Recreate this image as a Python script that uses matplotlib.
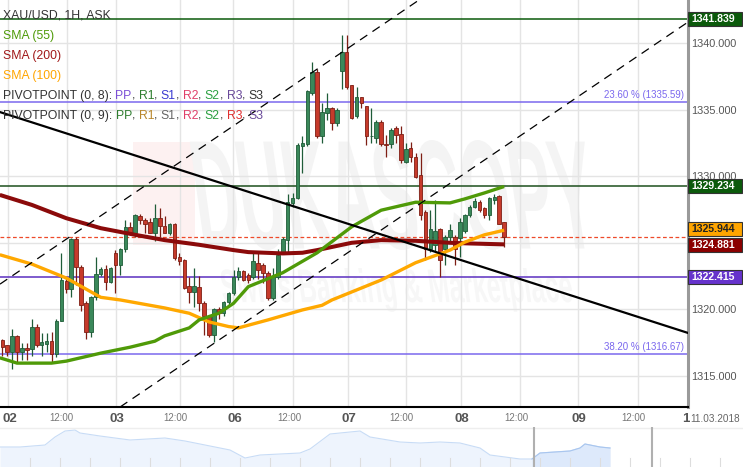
import numpy as np
import matplotlib.pyplot as plt
from matplotlib.patches import Rectangle, PathPatch
from matplotlib.textpath import TextPath
from matplotlib.font_manager import FontProperties
import matplotlib.transforms as mtransforms

plt.rcParams['font.family'] = ['Liberation Sans', 'DejaVu Sans']

# hourly candles (open, high, low, close)
opens = [1317.7, 1317.3, 1316.75, 1318.0, 1316.75, 1317.05, 1317.0, 1318.65, 1317.3, 1317.4,
         1317.6, 1316.65, 1319.15, 1322.15, 1321.55, 1325.25, 1323.2, 1320.45, 1318.3, 1320.9,
         1322.65, 1323.0, 1322.05, 1324.2, 1323.3, 1324.5, 1326.2, 1325.7, 1327.0, 1326.75,
         1326.6, 1325.7, 1326.9, 1326.3, 1325.75, 1326.45, 1323.95, 1323.7, 1321.75, 1321.3,
         1321.7, 1320.5, 1319.5, 1318.05, 1320.0, 1319.7, 1320.55, 1321.2, 1322.45, 1322.85,
         1322.55, 1322.45, 1323.5, 1323.3, 1322.75, 1320.85, 1322.45, 1324.25, 1325.2, 1328.0,
         1328.4, 1332.3, 1332.45, 1336.25, 1337.85, 1333.0, 1334.75, 1335.15, 1334.0, 1337.9,
         1339.35, 1336.85, 1334.5, 1336.0, 1335.3, 1333.0, 1332.85, 1334.1, 1332.45, 1332.45,
         1333.65, 1333.2, 1331.1, 1332.15, 1331.45, 1330.1, 1327.3, 1324.5, 1324.8, 1326.0,
         1324.5, 1325.4, 1325.45, 1325.35, 1325.85, 1327.1, 1327.7, 1328.1, 1327.65, 1327.1,
         1328.25, 1328.5, 1326.6]
highs = [1317.75, 1317.35, 1318.5, 1318.05, 1317.45, 1317.45, 1319.3, 1318.9, 1318.2, 1318.2,
         1318.3, 1319.3, 1324.2, 1322.35, 1325.35, 1325.45, 1323.35, 1320.6, 1321.0, 1323.95,
         1323.2, 1323.35, 1323.2, 1324.45, 1324.6, 1326.7, 1326.6, 1327.2, 1327.2, 1326.85,
         1326.85, 1327.9, 1327.6, 1327.0, 1326.5, 1326.5, 1324.2, 1323.75, 1322.45, 1323.1,
         1322.5, 1320.6, 1319.55, 1320.1, 1320.2, 1320.6, 1321.3, 1322.95, 1323.2, 1322.95,
         1322.7, 1324.35, 1324.3, 1323.5, 1322.9, 1323.1, 1324.5, 1325.45, 1328.7, 1328.75,
         1332.5, 1333.0, 1336.5, 1338.6, 1338.1, 1335.5, 1336.25, 1335.25, 1335.15, 1340.65,
         1340.6, 1336.9, 1336.75, 1336.0, 1335.3, 1335.15, 1334.25, 1334.25, 1333.1, 1333.65,
         1333.75, 1333.8, 1332.5, 1332.6, 1331.75, 1331.75, 1327.45, 1327.45, 1328.2, 1326.1,
         1325.6, 1326.4, 1325.6, 1326.85, 1327.2, 1327.85, 1328.35, 1328.2, 1327.7, 1328.45,
         1328.7, 1328.6, 1326.6]
lows = [1316.45, 1316.45, 1315.5, 1316.0, 1316.15, 1316.2, 1316.5, 1317.2, 1316.5, 1316.75,
        1316.0, 1316.4, 1319.1, 1321.2, 1320.9, 1321.85, 1319.9, 1317.75, 1317.95, 1320.7,
        1322.5, 1321.45, 1321.95, 1321.2, 1322.6, 1324.3, 1325.6, 1325.45, 1326.45, 1325.7,
        1325.7, 1325.1, 1325.45, 1325.7, 1325.6, 1323.7, 1323.35, 1321.55, 1320.45, 1320.2,
        1319.85, 1318.05, 1317.9, 1317.55, 1319.3, 1319.5, 1320.3, 1321.05, 1322.2, 1322.1,
        1321.95, 1322.3, 1322.3, 1322.0, 1320.7, 1320.7, 1322.3, 1324.2, 1324.2, 1327.7,
        1328.3, 1330.25, 1332.3, 1336.1, 1332.9, 1332.5, 1334.25, 1333.5, 1333.75, 1336.6,
        1336.6, 1334.3, 1334.35, 1335.1, 1332.35, 1332.5, 1332.5, 1332.25, 1331.45, 1332.1,
        1332.5, 1331.0, 1331.0, 1331.1, 1329.85, 1326.7, 1323.7, 1324.3, 1324.4, 1322.4,
        1323.3, 1325.1, 1323.3, 1323.95, 1325.7, 1326.95, 1327.6, 1327.35, 1326.85, 1326.7,
        1327.95, 1326.45, 1324.7]
closes = [1317.2, 1316.75, 1318.0, 1316.75, 1317.05, 1316.95, 1318.65, 1317.3, 1317.55, 1317.6,
          1316.65, 1319.15, 1322.2, 1321.55, 1325.25, 1323.2, 1320.3, 1318.3, 1320.9, 1322.65,
          1323.0, 1322.05, 1323.1, 1323.3, 1324.5, 1326.2, 1325.7, 1327.1, 1326.7, 1326.45,
          1325.7, 1326.9, 1326.25, 1325.75, 1326.45, 1323.85, 1323.6, 1321.6, 1321.3, 1321.75,
          1320.45, 1319.5, 1318.05, 1320.05, 1319.7, 1320.55, 1321.2, 1322.45, 1322.85, 1322.2,
          1322.2, 1323.65, 1322.95, 1322.75, 1320.85, 1322.5, 1324.1, 1325.3, 1328.1, 1328.4,
          1332.35, 1332.5, 1336.4, 1337.85, 1333.0, 1334.85, 1335.15, 1334.0, 1335.0, 1339.35,
          1336.75, 1334.35, 1336.0, 1335.5, 1333.0, 1333.05, 1334.1, 1332.45, 1332.35, 1333.5,
          1333.1, 1331.25, 1332.05, 1331.45, 1329.95, 1327.1, 1324.5, 1326.0, 1325.9, 1323.7,
          1325.45, 1325.95, 1324.5, 1326.6, 1327.1, 1327.7, 1328.15, 1327.45, 1327.1, 1328.35,
          1328.45, 1326.45, 1325.45]

# moving averages (candle index, price)
sma55_x = [-0.5, 3, 10, 13, 20, 26, 31, 33, 38, 40, 44, 47, 50, 57, 64, 71, 77, 84, 91, 94, 98, 102]
sma55 = [1316.35, 1315.95, 1315.95, 1316.1, 1316.7, 1317.15, 1317.6, 1318.0, 1318.6, 1319.2, 1319.7,
         1320.45, 1321.7, 1322.75, 1324.25, 1326.2, 1327.45, 1328.05, 1328.0, 1328.3, 1328.75, 1329.234]
sma100_x = [-0.5, 6, 13, 20, 24, 27, 33, 38, 42, 46, 48, 50, 54, 61, 65, 67, 77, 84, 91, 94, 98, 102]
sma100 = [1324.1, 1323.4, 1322.35, 1320.9, 1320.7, 1320.5, 1320.1, 1319.7, 1319.05, 1318.7, 1318.6,
          1318.8, 1319.2, 1319.95, 1320.3, 1320.7, 1322.2, 1323.5, 1324.45, 1325.05, 1325.6, 1325.944]
sma200_x = [-0.5, 6, 13, 20, 27, 33, 40, 47, 50, 57, 61, 64, 71, 77, 84, 91, 95, 102]
sma200 = [1328.6, 1327.85, 1326.85, 1326.1, 1325.6, 1325.2, 1324.85, 1324.45, 1324.3, 1324.2,
          1324.25, 1324.45, 1325.0, 1325.2, 1325.15, 1325.0, 1324.95, 1324.881]

# drawn levels
level_top = 1341.839
level_r = 1329.234
pivot = 1322.415
fib_levels = [1335.59, 1316.67]
fib_labels = ['23.60 % (1335.59)', '38.20 % (1316.67)']
last_price = closes[-1]

# trend line and channel (two points each: candle index, price)
trend_pts = [(-0.47, 1334.83), (139.37, 1318.22)]
chan_low_pts = [(23.94, 1312.65), (139.37, 1341.60)]
chan_up_pts = [(-0.12, 1321.98), (84.7, 1343.26)]

# x axis
label_pos = [1.6, 12.1, 23.3, 35.1, 47.3, 58.3, 70.5, 81.2, 93.4, 104.4, 117.2, 128.2, 139.0]
label_txt = ['02', '12:00', '03', '12:00', '06', '12:00', '07', '12:00', '08', '12:00', '09', '12:00', '1']
grid_pos = [1.2, 13.2, 23.1, 36.1, 46.9, 59.1, 70.3, 82.1, 93.2, 105.2, 117.0, 129.2]
price_ticks = [1315, 1320, 1325, 1330, 1335, 1340]
hidden_ticks = [1325]   # covered by the price boxes

# navigator overview line
nav_x = [0, 20, 45, 55, 65, 75, 80, 100, 130, 165, 185, 200, 230, 245, 260, 280, 300, 310, 330, 350,
         360, 370, 400, 420, 440, 460, 480, 490, 520, 532, 540, 570, 580, 585, 600, 610]
nav_y = [20, 20, 22, 30, 36, 37, 34, 31, 27, 29, 26, 23, 17, 9, 12, 13, 14, 18, 33, 35,
         36, 30, 25, 24, 25, 24, 19, 12, 8, 8, 14, 16, 19, 23, 20, 19]

W, H = 743, 467
fig = plt.figure(figsize=(W / 100, H / 100), dpi=100)
ax = fig.add_axes([0, (H - 407) / H, 688 / W, 407 / H])
ax.set_xlim(-0.47, 139.37)
ax.set_ylim(1312.65, 1343.26)

# watermark
fp = FontProperties(family='Liberation Sans', weight='bold')


def stretched_text(s, x0, x1, ytop, ybot, color, prop):
    tp = TextPath((0, 0), s, size=1, prop=prop)
    ext = tp.get_extents()
    sx = (x1 - x0) / ext.width
    sy = (ybot - ytop) / ext.height
    tr = mtransforms.Affine2D().translate(-ext.x0, -ext.y0).scale(sx, sy).skew_deg(-8, 0).translate(x0, H - ybot)
    p = PathPatch(tr.transform_path(tp), fc=color, ec='none', transform=mtransforms.IdentityTransform(), zorder=0.3)
    ax.add_artist(p)


ax.add_artist(Rectangle((133, H - 245), 62, 103, transform=mtransforms.IdentityTransform(),
                        fc='#fdf1f1', ec='none', zorder=0.3))
stretched_text('DUKASCOPY', 205, 600, 140, 250, '#f4f4f4', fp)
stretched_text('Swiss Banking & Marketplace', 225, 575, 268, 312, '#f7f7f7', fp)

# grid
for g in grid_pos:
    ax.axvline(g, color='#e4e4e4', lw=1, zorder=0.5)
for p in price_ticks:
    ax.axhline(p, color='#e4e4e4', lw=1, zorder=0.5)

# horizontal levels
ax.axhline(level_top, color='#0b5a0b', lw=1.1, zorder=1)
ax.axhline(level_r, color='#1d4f1d', lw=1.1, zorder=1)
ax.axhline(pivot, color='#5b2fc0', lw=1.1, zorder=1)
for lv, lab in zip(fib_levels, fib_labels):
    ax.axhline(lv, color='#7b68ee', lw=1.1, zorder=1)
    ax.text(138.5, lv + 0.12, lab, color='#7b68ee', fontsize=7, ha='right', va='bottom', zorder=2)
ax.axhline(last_price, color='#ee4a2a', lw=0.9, ls=(0, (3, 2)), zorder=1)

# candles
x = np.arange(len(opens))
o = np.array(opens)
c = np.array(closes)
up = c >= o
fill = np.where(up, '#3a885a', '#c63a2b')
edge = np.where(up, '#1f5c38', '#7e1e14')
ax.vlines(x, lows, highs, colors=edge, lw=0.9, zorder=3)
ax.bar(x, np.maximum(np.abs(c - o), 0.05), bottom=np.minimum(o, c), width=0.72,
       color=fill, edgecolor=edge, linewidth=0.6, zorder=4)

# moving averages
ax.plot(sma200_x, sma200, color='#8b0a0a', lw=2.9, solid_capstyle='butt', zorder=5)
ax.plot(sma100_x, sma100, color='#ffa800', lw=2.4, solid_capstyle='butt', zorder=5)
ax.plot(sma55_x, sma55, color='#4f9a08', lw=2.4, solid_capstyle='butt', zorder=5)

# trend line and channel
ax.axline(trend_pts[0], trend_pts[1], color='black', lw=1.6, zorder=6)
ax.axline(chan_low_pts[0], chan_low_pts[1], color='black', lw=0.9, ls=(0, (7, 5)), zorder=6)
ax.axline(chan_up_pts[0], chan_up_pts[1], color='black', lw=0.9, ls=(0, (7, 5)), zorder=6)

# axes styling
for s in ['top', 'left']:
    ax.spines[s].set_visible(False)
ax.spines['bottom'].set_color('black')
ax.spines['bottom'].set_linewidth(1.5)
ax.spines['right'].set_color('#9a9a9a')
ax.spines['right'].set_linewidth(2.2)
ax.yaxis.tick_right()
ax.set_yticks(price_ticks)
ax.set_yticklabels(['' if p in hidden_ticks else f'{p:.3f}' for p in price_ticks])
ax.tick_params(axis='y', length=0, pad=2.5, labelsize=7.8, labelcolor='#555555')
ax.set_xticks(label_pos)
ax.set_xticklabels(label_txt)
ax.tick_params(axis='x', length=0, pad=4)
for lbl in ax.get_xticklabels():
    if lbl.get_text() == '12:00':
        lbl.set_fontsize(7)
        lbl.set_color('#777777')
    else:
        lbl.set_fontsize(9.5)
        lbl.set_fontweight('bold')
        lbl.set_color('#555555')
fig.text(690 / W, 1 - 419 / H, '11.03.2018', fontsize=7.2, color='#666666', va='center', ha='left')

# price boxes on right axis
boxes = [(level_top, '#0b5a0b', 'white', 0), (level_r, '#0b5a0b', 'white', 0),
         (sma100[-1], '#ffa500', '#222222', 1.5), (sma200[-1], '#8b0000', 'white', -1)]
boxes.append((pivot, '#6633cc', 'white', 0))
for val, fc, tc, shift in boxes:
    yc = ax.transData.transform((0, val))[1] + shift
    fig.add_artist(Rectangle((688 / W, (yc - 7) / H), 54 / W, 14 / H, transform=fig.transFigure,
                             fc=fc, ec='#333333', lw=0.8, zorder=10))
    fig.text(691 / W, yc / H, f'{val:.3f}', color=tc, fontsize=7.6, fontweight='bold',
             va='center', ha='left', zorder=11)

# legend texts at top left
rend = fig.canvas.get_renderer()


def draw_parts(x0, ytop, parts):
    xx = x0
    for s, col in parts:
        t = fig.text(xx / W, 1 - ytop / H, s, color=col, fontsize=8.8, va='center', ha='left', zorder=12)
        xx += t.get_window_extent(renderer=rend).width


draw_parts(3, 15, [('XAU/USD, 1H, ASK', '#333333')])
draw_parts(3, 36, [('SMA (55)', '#4f9a08')])
draw_parts(3, 56, [('SMA (200)', '#a01818')])
draw_parts(3, 76, [('SMA (100)', '#ffa500')])
draw_parts(3, 96, [('PIVOTPOINT (0, 8): ', '#333333'), ('PP', '#7b4fd6'), (', ', '#333333'),
                   ('R1', '#2f7d2f'), (', ', '#333333'), ('S1', '#3a3ad0'), (', ', '#333333'),
                   ('R2', '#e0406a'), (', ', '#333333'), ('S2', '#2aa040'), (', ', '#333333'),
                   ('R3', '#6a4a9a'), (', ', '#333333'), ('S3', '#333333')])
draw_parts(3, 116, [('PIVOTPOINT (0, 9): ', '#333333'), ('PP', '#2f7d2f'), (', ', '#333333'),
                    ('R1', '#b8862b'), (', ', '#333333'), ('S1', '#666666'), (', ', '#333333'),
                    ('R2', '#e0406a'), (', ', '#333333'), ('S2', '#2aa040'), (', ', '#333333'),
                    ('R3', '#e03030'), (', ', '#333333'), ('S3', '#6a4a9a')])

# navigator strip
nav = fig.add_axes([0, 0, 1, 40 / H])
nav.set_xlim(0, W)
nav.set_ylim(0, 40)
nav.axis('off')
nx_ = np.array(nav_x)
ny_ = np.array(nav_y)
nav.fill_between(nx_, 0, ny_, color='#eef4fd', lw=0)
nav.plot(nx_, ny_, color='#c8dcf6', lw=0.8)
sel = nx_ >= 532
nav.fill_between(nx_[sel], 0, ny_[sel], color='#dde9fb', lw=0)
nav.plot(nx_[sel], ny_[sel], color='#a9c6ef', lw=0.8)
nav.axhline(39.5, color='#eeeeee', lw=1)
for t in range(30, 740, 30):
    nav.plot([t, t], [0, 9], color='#dddddd', lw=0.8)
nav.plot([534, 534], [0, 40], color='#b0b0b0', lw=1.5)
nav.plot([652, 652], [0, 40], color='#b0b0b0', lw=1.5)

fig.savefig('out.png', dpi=100)
